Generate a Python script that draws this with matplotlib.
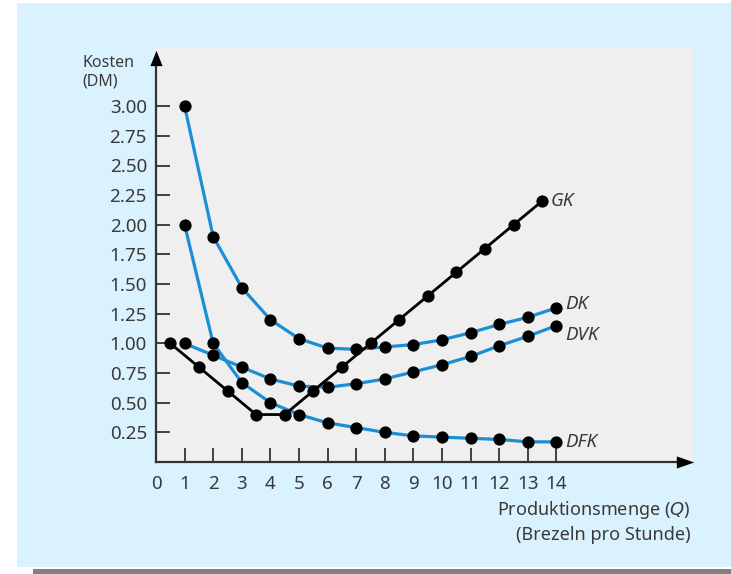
import numpy as np
import matplotlib.pyplot as plt
from matplotlib.patches import Rectangle

plt.rcParams['font.family'] = ['Noto Sans', 'DejaVu Sans']

# Produktionsmenge (Brezeln pro Stunde)
menge = [1, 2, 3, 4, 5, 6, 7, 8, 9, 10, 11, 12, 13, 14]
# Durchschnittliche fixe, variable und totale Kosten
dfk = [2.00, 1.00, 0.67, 0.50, 0.40, 0.33, 0.29, 0.25, 0.22, 0.21, 0.20, 0.19, 0.17, 0.17]
dvk = [1.00, 0.90, 0.80, 0.70, 0.64, 0.63, 0.66, 0.70, 0.76, 0.82, 0.89, 0.98, 1.06, 1.15]
dk = [3.00, 1.90, 1.47, 1.20, 1.04, 0.96, 0.95, 0.97, 0.99, 1.03, 1.09, 1.16, 1.22, 1.30]
# Grenzkosten liegen zwischen zwei Mengen
gk_menge = [0.5, 1.5, 2.5, 3.5, 4.5, 5.5, 6.5, 7.5, 8.5, 9.5, 10.5, 11.5, 12.5, 13.5]
gk = [1.00, 0.80, 0.60, 0.40, 0.40, 0.60, 0.80, 1.00, 1.20, 1.40, 1.60, 1.80, 2.00, 2.20]

x_ticks = list(range(0, 15))
y_ticks = [0.25, 0.50, 0.75, 1.00, 1.25, 1.50, 1.75, 2.00, 2.25, 2.50, 2.75, 3.00]

blau = '#1b8fd6'
hintergrund = '#daf2fd'
flaeche = '#efefef'
schrift = '#3a3a3a'

W, H = 731, 574
fig = plt.figure(figsize=(W / 100, H / 100), dpi=100)

# Hellblauer Kasten und grauer Balken unten
fig.patches.append(Rectangle((17 / W, (H - 567) / H), (W - 17) / W, 564 / H,
                             transform=fig.transFigure, facecolor=hintergrund,
                             edgecolor='none', zorder=-2))
fig.patches.append(Rectangle((33 / W, 0), (W - 33) / W, 5 / H,
                             transform=fig.transFigure, facecolor='#808080',
                             edgecolor='none', zorder=-2))

ax = fig.add_axes([156 / W, (H - 462) / H, (693 - 156) / W, (462 - 48) / H])
ax.set_zorder(1)
ax.set_facecolor(flaeche)
ax.set_xlim(0, (693 - 156) / 28.6)
ax.set_ylim(0, (462 - 48) / 118.6)

for name, werte in [('DFK', dfk), ('DVK', dvk), ('DK', dk)]:
    ax.plot(menge, werte, color=blau, lw=2.3, zorder=3)
    ax.plot(menge, werte, 'o', color='black', ms=7.8, zorder=5, clip_on=False)
ax.plot(gk_menge, gk, color='black', lw=2.0, zorder=4)
ax.plot(gk_menge, gk, 'o', color='black', ms=7.8, zorder=5, clip_on=False)

# Kurvenbeschriftungen
beschriftung = dict(fontsize=13.5, style='italic', color=schrift, va='center', ha='left')
ax.text(gk_menge[-1] + 0.3, gk[-1], 'GK', **beschriftung)
ax.text(menge[-1] + 0.3, dk[-1] + 0.03, 'DK', **beschriftung)
ax.text(menge[-1] + 0.3, dvk[-1] - 0.08, 'DVK', **beschriftung)
ax.text(menge[-1] + 0.3, dfk[-1], 'DFK', **beschriftung)

# Achsen mit Pfeilen
for s in ax.spines.values():
    s.set_visible(False)
x_pfeil, y_pfeil = 18.48, 3.41
ax.plot([0, x_pfeil], [0, 0], color='#333333', lw=1.6, zorder=2, clip_on=False)
ax.plot([0, 0], [0, y_pfeil], color='#333333', lw=1.6, zorder=2, clip_on=False)
spitze_rechts = [(-0.5, -0.35), (-0.5, 0.35), (0.5, 0.0)]
spitze_oben = [(-0.4, -0.5), (0.4, -0.5), (0.0, 0.5)]
ax.plot([x_pfeil], [0], marker=spitze_rechts, color='black', ms=12.5,
        mew=0, clip_on=False, zorder=6)
ax.plot([0], [y_pfeil], marker=spitze_oben, color='black', ms=11,
        mew=0, clip_on=False, zorder=6)

ax.set_xticks(x_ticks)
ax.set_xticklabels([str(t) for t in x_ticks])
ax.set_yticks(y_ticks)
ax.set_yticklabels([f'{t:.2f}' for t in y_ticks])
ax.tick_params(axis='both', direction='in', length=10, width=1.3,
               color='#333333', labelcolor=schrift, labelsize=13.5)
ax.tick_params(axis='x', pad=9.5)
ax.tick_params(axis='y', pad=6.5)
ax.xaxis.get_major_ticks()[0].tick1line.set_visible(False)

fig.text(82 / W, (H - 63) / H, 'Kosten', fontsize=11.5, color=schrift,
         ha='left', va='center')
fig.text(82 / W, (H - 82) / H, '(DM)', fontsize=11.5, color=schrift,
         ha='left', va='center')
fig.text(691 / W, (H - 510) / H, 'Produktionsmenge ($\\mathit{Q}$)', fontsize=13,
         color=schrift, ha='right', va='center')
fig.text(691 / W, (H - 535) / H, '(Brezeln pro Stunde)', fontsize=13,
         color=schrift, ha='right', va='center')

fig.savefig('out.png', dpi=100, facecolor='white')
